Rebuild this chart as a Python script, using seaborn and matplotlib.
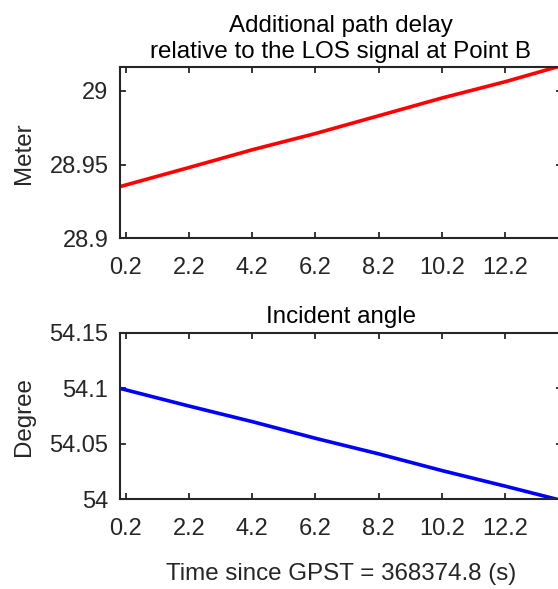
import numpy as np
import pandas as pd
import matplotlib
matplotlib.use("Agg")
import matplotlib.pyplot as plt
import seaborn as sns

# values
time_s = [0.0, 2.2, 4.2, 6.2, 8.2, 10.2, 12.2, 14.0]
path_delay_m = [28.935, 28.948, 28.960, 28.971, 28.983, 28.995, 29.006, 29.017]
incident_deg = [54.100, 54.084, 54.070, 54.055, 54.041, 54.026, 54.012, 53.999]
xtick_vals = [0.2, 2.2, 4.2, 6.2, 8.2, 10.2, 12.2]

df = pd.DataFrame({'t': time_s, 'delay': path_delay_m, 'angle': incident_deg})

sns.set_theme(style="white")
plt.rcParams['font.family'] = ['Liberation Sans', 'DejaVu Sans']
dark = '#262626'
fs_tick = 17
fs_lab = 17.4

fig = plt.figure(figsize=(5.58, 5.89), dpi=100)
ax1 = fig.add_axes([0.2142, 0.5951, 0.793, 0.2912])
ax2 = fig.add_axes([0.2142, 0.1520, 0.793, 0.2832])

sns.lineplot(data=df, x='t', y='delay', ax=ax1, color='red', linewidth=2.6)
sns.lineplot(data=df, x='t', y='angle', ax=ax2, color='blue', linewidth=2.6)

ax1.set_ylim(28.9, 29.016)
ax1.set_yticks([28.9, 28.95, 29.0])
ax1.set_yticklabels(['28.9', '28.95', '29'])
ax1.set_ylabel('Meter', fontsize=fs_lab, color=dark)
ax1.set_xlabel('')
ax1.set_title('Additional path delay\nrelative to the LOS signal at Point B',
              fontsize=fs_lab, color='black', pad=6.5, linespacing=1.25)

ax2.set_ylim(54.0, 54.15)
ax2.set_yticks([54.0, 54.05, 54.1, 54.15])
ax2.set_yticklabels(['54', '54.05', '54.1', '54.15'])
ax2.set_ylabel('Degree', fontsize=fs_lab, color=dark)
ax2.set_title('Incident angle', fontsize=fs_lab, color='black', pad=7)
ax2.set_xlabel('Time since GPST = 368374.8 (s)', fontsize=fs_lab, color=dark)
ax2.xaxis.set_label_coords(0.5, -0.38)

for ax in (ax1, ax2):
    ax.set_xlim(0, 14)
    ax.set_xticks(xtick_vals)
    ax.set_xticklabels([f'{v:.1f}' for v in xtick_vals])
    # box with inward ticks on all four sides
    ax.tick_params(direction='in', length=4.2, width=1.3, colors=dark,
                   labelsize=fs_tick, top=True, right=True, bottom=True, left=True)
    ax.tick_params(axis='x', pad=13)
    ax.tick_params(axis='y', pad=8)
    ax.yaxis.set_label_coords(-0.19, 0.5)
    for sp in ax.spines.values():
        sp.set_visible(True)
        sp.set_color(dark)
        sp.set_linewidth(1.5)

fig.savefig('out.png', dpi=100)
